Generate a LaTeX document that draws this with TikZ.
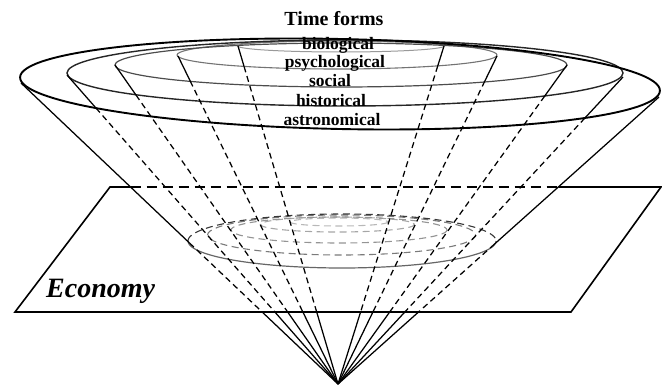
\documentclass[tikz,border=0pt]{standalone}
\usepackage{fontspec}
\setmainfont{Liberation Serif}
\usetikzlibrary{calc}
% a cone line from the top point (#1,#2) to the apex A:
% solid down to pixel height #3, dashed down to the plane's front edge, solid below it
\newcommand\coneline[3]{%
  \pgfmathsetmacro\clS{(384-#3)/(384-#2)}%
  \pgfmathsetmacro\clF{72/(384-#2)}%
  \draw[cone] (#1,#2) -- ($(A)!\clS!(#1,#2)$);
  \draw[cone,hid] ($(A)!\clS!(#1,#2)$) -- ($(A)!\clF!(#1,#2)$);
  \draw[cone] ($(A)!\clF!(#1,#2)$) -- (A);
}
\begin{document}
\begin{tikzpicture}[x=1pt,y=-1pt,
  cone/.style={line width=1.25pt, black},
  hid/.style={dash pattern=on 6pt off 4pt},
  rim/.style={line width=#1},
  lbl/.style={font=\fontsize{17.5}{18}\selectfont\bfseries, inner sep=0pt, anchor=base},
  plane/.style={line width=1.6pt, black, line join=miter},
  base ring/.style={line width=1.1pt, dash pattern=on 7pt off 4.5pt}]
\useasboundingbox (0,0) rectangle (662,385);
\coordinate (A) at (338,384);

% economy plane
\draw[plane] (130.5,187) -- (110,187) -- (15,312) -- (571,312) -- (661,187) -- (558.3,187);
\draw[plane, dash pattern=on 10pt off 6pt] (130.5,187) -- (558.3,187);

% rings at the top (time forms)
\draw[rim=1pt, black!40] (341,46) ellipse[x radius=103, y radius=6];
\draw[rim=1.1pt, black!55] (337,55) ellipse[x radius=160, y radius=14];
\draw[rim=1.2pt, black!70] (341,65) ellipse[x radius=226, y radius=22];
\draw[rim=1.4pt, black!85] (345,73) ellipse[x radius=278, y radius=33];
\draw[rim=1.9pt, black, rotate around={-1.2:(340,84)}] (340,84) ellipse[x radius=320, y radius=45];

% rings in the plane
\draw[base ring, black!28] (339,222) ellipse[x radius=49, y radius=4];
\draw[base ring, black!35] (337.5,224.5) ellipse[x radius=77, y radius=7.5];
\draw[base ring, black!42] (339,230) ellipse[x radius=108, y radius=13];
\draw[base ring, black!52] (341.5,235) ellipse[x radius=134, y radius=20];
\draw[base ring, black!78] plot[domain=180:360, samples=60, smooth] ({342+154*cos(\x)},{241+27*sin(\x)});
\draw[line width=1.2pt, black!60] plot[domain=0:180, samples=60, smooth] ({342+154*cos(\x)},{241+27*sin(\x)});

% cone lines
\coneline{238}{46}{66.5}
\coneline{444}{46}{66}
\coneline{178}{56}{81}
\coneline{497}{56}{81}
\coneline{115}{65}{95}
\coneline{567}{65}{96}
\coneline{67}{75}{108}
\coneline{623}{77}{118}
\coneline{21}{83}{243}
\coneline{659}{97}{244}

% texts
\node[font=\fontsize{20}{20}\selectfont\bfseries, inner sep=0pt, anchor=base] (tf) at (334,26) {Time forms};
\node[lbl] (bio) at (338,50) {biological};
\node[lbl] (psy) at (335,68) {psychological};
\node[lbl] (soc) at (330,87) {social};
\node[lbl] (his) at (331,106.5) {historical};
\node[lbl] (ast) at (332,126) {astronomical};
\node[font=\fontsize{28}{28}\selectfont\bfseries\itshape, inner sep=0pt, anchor=base west] (eco) at (46,297) {Economy};
\end{tikzpicture}
\end{document}
